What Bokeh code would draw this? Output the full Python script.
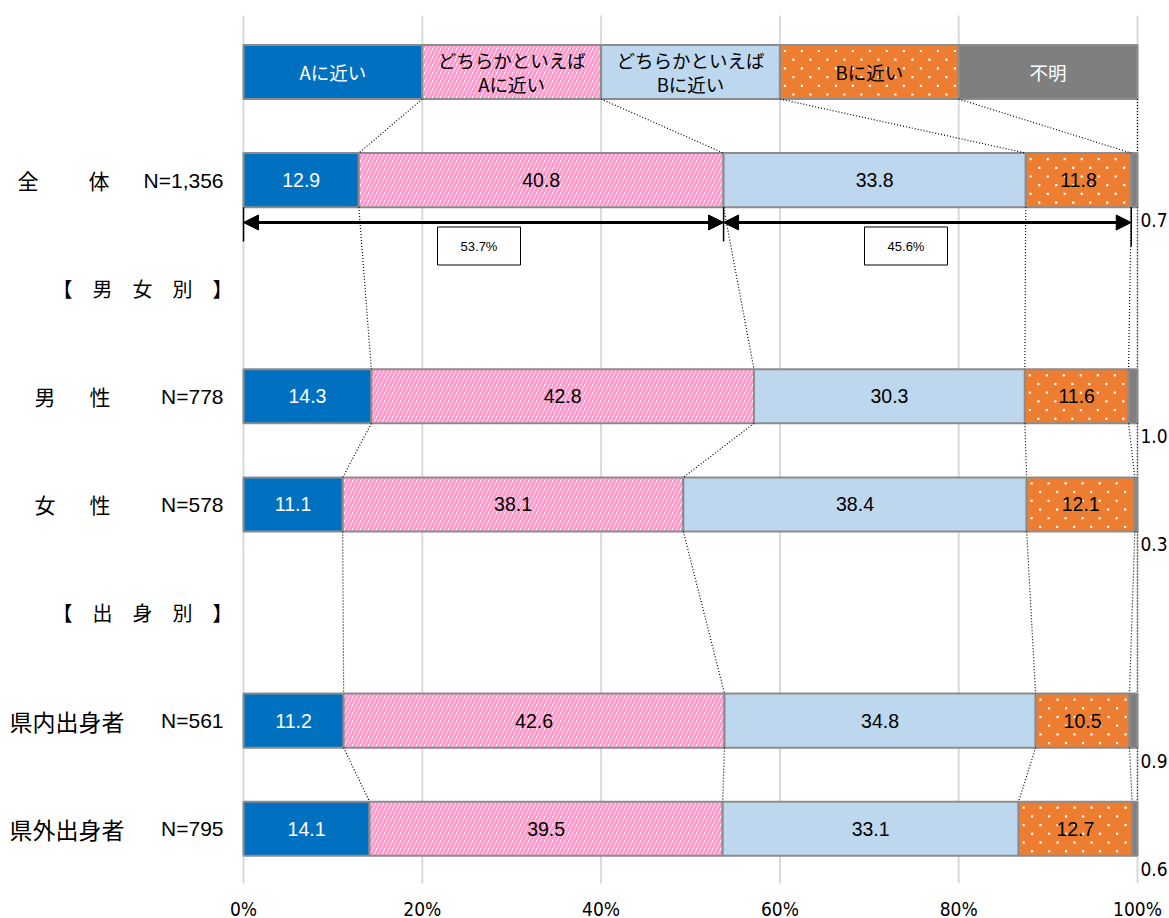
from bokeh.plotting import figure
from bokeh.models import Range1d, Arrow, NormalHead
from bokeh.core.properties import value
from bokeh.embed import file_html
from bokeh.resources import INLINE

# ---- data -------------------------------------------------------------
categories = ["全体", "男性", "女性", "県内出身者", "県外出身者"]
sample_sizes = ["N=1,356", "N=778", "N=578", "N=561", "N=795"]
near_a = [12.9, 14.3, 11.1, 11.2, 14.1]
lean_a = [40.8, 42.8, 38.1, 42.6, 39.5]
lean_b = [33.8, 30.3, 38.4, 34.8, 33.1]
near_b = [11.8, 11.6, 12.1, 10.5, 12.7]
unknown = [0.7, 1.0, 0.3, 0.9, 0.6]
series_names = ["Aに近い", "どちらかといえば\nAに近い", "どちらかといえば\nBに近い", "Bに近い", "不明"]
group_headers = ["【　男　女　別　】", "【　出　身　別　】"]
x_ticks = [0, 20, 40, 60, 80, 100]
tick_labels = ["0%", "20%", "40%", "60%", "80%", "100%"]

# ---- layout -----------------------------------------------------------
W, H = 1169, 918
X0_PX, PX_PER_PCT = 243, 8.94          # where 0% sits and pixels per percent
Y0_PX, PX_PER_ROW = 71.5, 108.1        # centre of the key row and row pitch
legend_slot = 0
bar_slots = [1, 3, 4, 6, 7]
header_slots = [2, 5]
BAR_H = 0.5

JP = "Noto Sans CJK JP"
NUM = "Liberation Sans"
NARROW = "DejaVu Sans Condensed"


def px_x(px):
    return (px - X0_PX) / PX_PER_PCT


def px_y(px):
    return (px - Y0_PX) / PX_PER_ROW


series = [near_a, lean_a, lean_b, near_b, unknown]
styles = [
    dict(fill_color="#0070C0"),
    dict(fill_color="white", hatch_pattern="/", hatch_color="#FF99CC", hatch_scale=8, hatch_weight=3),
    dict(fill_color="#BDD7EE"),
    dict(fill_color="#ED7D31"),
    dict(fill_color="#7F7F7F"),
]
DOTTED_SERIES = 3          # the "Bに近い" segments carry a white dot texture
text_colors = ["white", "black", "black", "black", "white"]
OUTLINE = "#8C8C8C"

p = figure(width=W, height=H, output_backend="svg", toolbar_location=None,
           x_range=Range1d(px_x(0), px_x(W)), y_range=Range1d(px_y(H), px_y(0)),
           min_border=0, x_axis_location=None, y_axis_location=None)
p.grid.visible = False
p.outline_line_color = None
p.background_fill_color = "white"

# vertical grid lines
p.segment(x0=x_ticks, x1=x_ticks, y0=[px_y(15)] * len(x_ticks), y1=[px_y(883)] * len(x_ticks),
          line_color="#D9D9D9", line_width=2)
p.text(x=x_ticks, y=[px_y(908)] * len(x_ticks), text=tick_labels, text_align="center",
       text_baseline="middle", text_font=value(NARROW), text_font_size="19px", text_color="black")


def dot_texture(left, right, slot):
    """White dot lattice filling one bar segment."""
    xs, ys = [], []
    span_px = (right - left) * PX_PER_PCT
    for k in range(6):
        dy = -21 + 8.7 * k
        dx = 5 + (k % 2) * 8.5
        while dx < span_px - 3:
            xs.append(left + dx / PX_PER_PCT)
            ys.append(slot + dy / PX_PER_ROW)
            dx += 17
    return xs, ys


dots_x, dots_y = [], []

# ---- key row: five equal segments ------------------------------------
n = len(series_names)
step = 100 / n
key_left = [i * step for i in range(n)]
key_right = [(i + 1) * step for i in range(n)]
for i in range(n):
    p.hbar(y=[legend_slot], left=[key_left[i]], right=[key_right[i]], height=BAR_H,
           line_color=OUTLINE, line_width=2, **styles[i])
    if i == DOTTED_SERIES:
        dx_, dy_ = dot_texture(key_left[i], key_right[i], legend_slot)
        dots_x += dx_
        dots_y += dy_

# ---- stacked bars ------------------------------------------------------
lefts, rights = [], []
for r in range(len(categories)):
    acc, lrow, rrow = 0.0, [], []
    for s in series:
        lrow.append(acc)
        acc += s[r]
        rrow.append(acc)
    lefts.append(lrow)
    rights.append(rrow)

for i, s in enumerate(series):
    p.hbar(y=bar_slots, left=[lefts[r][i] for r in range(len(categories))],
           right=[rights[r][i] for r in range(len(categories))], height=BAR_H,
           line_color=OUTLINE, line_width=2, **styles[i])
    if i == DOTTED_SERIES:
        for r in range(len(categories)):
            dx_, dy_ = dot_texture(lefts[r][i], rights[r][i], bar_slots[r])
            dots_x += dx_
            dots_y += dy_

p.scatter(x=dots_x, y=dots_y, marker="square", size=2.2, fill_color="white", line_color=None)

# labels on top of the segments
for i in range(n):
    lines = series_names[i].split("\n")
    offs = [0.0] if len(lines) == 1 else [-0.115, 0.115]
    for line, off in zip(lines, offs):
        p.text(x=[(key_left[i] + key_right[i]) / 2], y=[legend_slot + off], text=[line],
               text_align="center", text_baseline="middle", text_font=value(JP),
               text_font_size="18.5px", text_color=text_colors[i])

for i, s in enumerate(series):
    if i < len(series) - 1:
        p.text(x=[(lefts[r][i] + rights[r][i]) / 2 for r in range(len(categories))], y=bar_slots,
               text=[f"{v:.1f}" for v in s], text_align="center", text_baseline="middle",
               text_font=value(NUM), text_font_size="19.5px", text_color=text_colors[i])
    else:
        p.text(x=[rights[r][i] for r in range(len(categories))], y=[b + 0.37 for b in bar_slots],
               text=[f"{v:.1f}" for v in s], text_align="left", text_baseline="middle",
               x_offset=3, text_font=value(NARROW), text_font_size="19px", text_color="black")

# dotted connectors between consecutive bars
chain_slots = [legend_slot] + bar_slots
chain_bounds = [key_right] + rights
cx0, cy0, cx1, cy1 = [], [], [], []
for k in range(len(chain_slots) - 1):
    for j in range(n):
        cx0.append(chain_bounds[k][j])
        cy0.append(chain_slots[k] + BAR_H / 2)
        cx1.append(chain_bounds[k + 1][j])
        cy1.append(chain_slots[k + 1] - BAR_H / 2)
p.segment(x0=cx0, y0=cy0, x1=cx1, y1=cy1, line_color="black", line_width=1.2, line_dash="1 2")

# ---- left labels -------------------------------------------------------
two_char_left = {"全体": (17, 88), "男性": (34, 89), "女性": (34, 89)}
for r, name in enumerate(categories):
    y = bar_slots[r]
    if name in two_char_left:
        for ch, px in zip(name, two_char_left[name]):
            p.text(x=[px_x(px)], y=[y], text=[ch], text_align="left", text_baseline="middle",
                   text_font=value(JP), text_font_size="21px", text_color="black")
    else:
        p.text(x=[px_x(9)], y=[y], text=[name], text_align="left", text_baseline="middle",
               text_font=value(JP), text_font_size="23px", text_color="black")
    p.text(x=[px_x(223)], y=[y], text=[sample_sizes[r]], text_align="right", text_baseline="middle",
           text_font=value(NUM), text_font_size="21px", text_color="black")

p.text(x=[px_x(232)] * len(group_headers), y=header_slots, text=group_headers, text_align="right",
       text_baseline="middle", text_font=value(JP), text_font_size="20px", text_color="black")

# ---- A-side / B-side totals for the overall row -----------------------
a_total = near_a[0] + lean_a[0]
b_total = lean_b[0] + near_b[0]
split = rights[0][1]
b_end = rights[0][3]
top_row = bar_slots[0]
arrow_y = px_y(222)

p.segment(x0=[0, split, b_end], x1=[0, split, b_end], y0=[top_row + BAR_H / 2] * 3,
          y1=[px_y(241), px_y(241), px_y(246)], line_color="black", line_width=1.5)
for xs, xe in [(0, split), (split, b_end)]:
    p.add_layout(Arrow(start=NormalHead(size=15, fill_color="black", line_color="black"),
                       end=NormalHead(size=15, fill_color="black", line_color="black"),
                       x_start=xs, y_start=arrow_y, x_end=xe, y_end=arrow_y,
                       line_color="black", line_width=3))

box_x = [px_x(478.5), px_x(905.5)]
box_y = px_y(245.5)
p.rect(x=box_x, y=[box_y] * 2, width=83 / PX_PER_PCT, height=38 / PX_PER_ROW,
       fill_color="white", line_color="black", line_width=1)
p.text(x=box_x, y=[box_y] * 2, text=[f"{a_total:.1f}%", f"{b_total:.1f}%"], text_align="center",
       text_baseline="middle", text_font=value(NUM), text_font_size="13px", text_color="black")

open("out.html", "w").write(file_html(p, INLINE))
